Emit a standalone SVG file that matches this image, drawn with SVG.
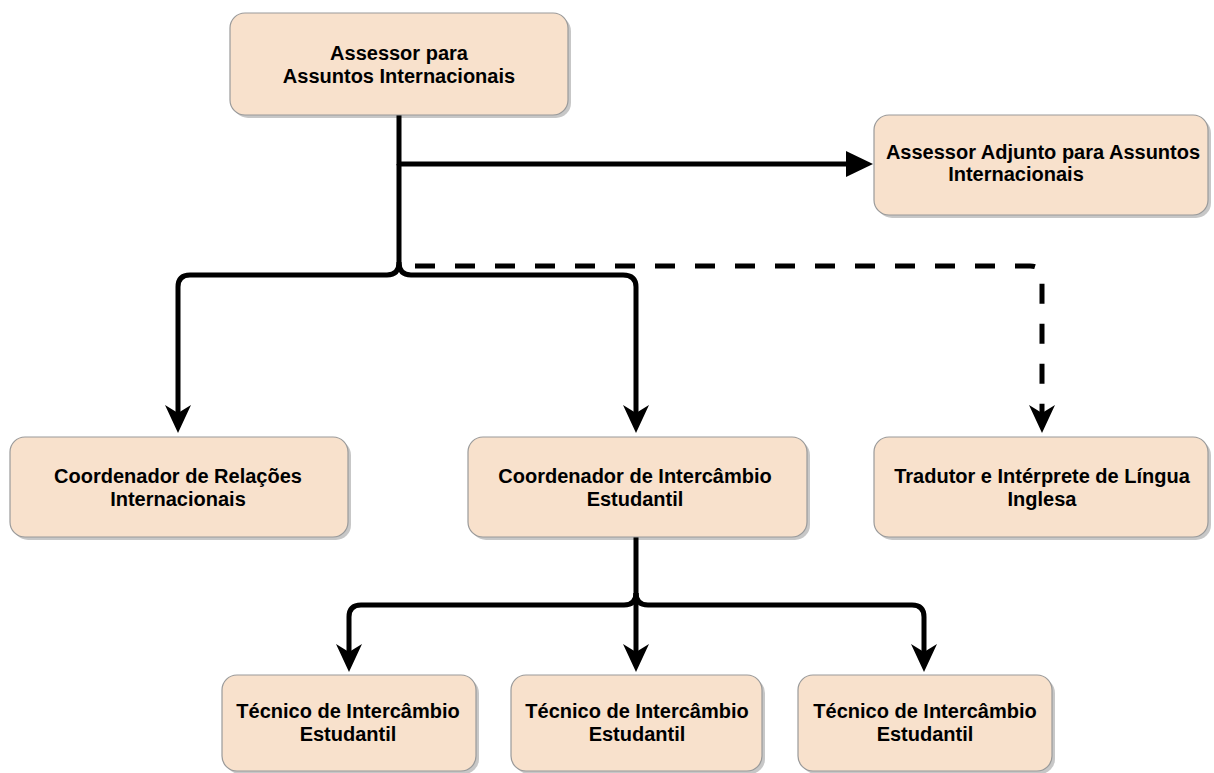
<svg xmlns="http://www.w3.org/2000/svg" width="1214" height="773" viewBox="0 0 1214 773">
<defs>
<style>
.box{fill:#F8E1CC;stroke:#9a9a9a;stroke-width:1.2}
.sh{fill:#000;opacity:0.22}
.t{font-family:"Liberation Sans",Arial,Helvetica,sans-serif;font-size:20px;font-weight:bold;fill:#000;text-anchor:middle}
.c{fill:none;stroke:#000;stroke-width:5;stroke-linejoin:round}
.d{stroke-dasharray:20 20}
</style>
<marker id="notch" viewBox="0 0 28 26" refX="16" refY="13" markerWidth="28" markerHeight="26" markerUnits="userSpaceOnUse" orient="auto">
<path d="M0,0 L28,13 L0,26 L8,13 Z" fill="#000"/>
</marker>
<marker id="block" viewBox="0 0 27 26" refX="15" refY="13" markerWidth="27" markerHeight="26" markerUnits="userSpaceOnUse" orient="auto">
<path d="M0,0 L27,13 L0,26 Z" fill="#000"/>
</marker>
</defs>
<rect width="1214" height="773" fill="#fff"/>

<g id="connectors">
<path class="c" d="M399,115 V164 H861" marker-end="url(#block)"/>
<path class="c" d="M399,164 V262 Q399,275 387,275 H190 Q178,275 178,287 V421" marker-end="url(#notch)"/>
<path class="c" d="M399,262 Q399,275 411,275 H623 Q636,275 636,287 V421" marker-end="url(#notch)"/>
<path class="c d" d="M415,266 H1030 Q1042,266 1042,278 V421" marker-end="url(#notch)"/>
<path class="c" d="M636,537 V660" marker-end="url(#notch)"/>
<path class="c" d="M636,593 Q636,605 624,605 H361 Q349,605 349,617 V660" marker-end="url(#notch)"/>
<path class="c" d="M636,593 Q636,605 648,605 H912 Q924,605 924,617 V660" marker-end="url(#notch)"/>
</g>

<g id="n-assessor">
<rect class="sh" x="233" y="16" width="338" height="102" rx="15"/>
<rect class="box" x="230" y="13" width="338" height="102" rx="15"/>
<text class="t" x="399" y="60">Assessor para</text>
<text class="t" x="399" y="83">Assuntos Internacionais</text>
</g>

<g id="n-adjunto">
<rect class="sh" x="877" y="118" width="334" height="100" rx="15"/>
<rect class="box" x="874" y="115" width="334" height="100" rx="15"/>
<text class="t" x="1043" y="159">Assessor Adjunto para Assuntos</text>
<text class="t" x="1016" y="181">Internacionais</text>
</g>

<g id="n-relacoes">
<rect class="sh" x="13" y="440" width="338" height="100" rx="15"/>
<rect class="box" x="10" y="437" width="338" height="100" rx="15"/>
<text class="t" x="178" y="483">Coordenador de Relações</text>
<text class="t" x="178" y="506">Internacionais</text>
</g>

<g id="n-intercambio">
<rect class="sh" x="471" y="440" width="339" height="100" rx="15"/>
<rect class="box" x="468" y="437" width="339" height="100" rx="15"/>
<text class="t" x="635" y="483">Coordenador de Intercâmbio</text>
<text class="t" x="635" y="506">Estudantil</text>
</g>

<g id="n-tradutor">
<rect class="sh" x="877" y="440" width="334" height="100" rx="15"/>
<rect class="box" x="874" y="437" width="334" height="100" rx="15"/>
<text class="t" x="1042" y="483">Tradutor e Intérprete de Língua</text>
<text class="t" x="1042" y="506">Inglesa</text>
</g>

<g id="n-tecnico1">
<rect class="sh" x="225" y="678" width="254" height="96" rx="15"/>
<rect class="box" x="222" y="675" width="254" height="96" rx="15"/>
<text class="t" x="348" y="718">Técnico de Intercâmbio</text>
<text class="t" x="348" y="741">Estudantil</text>
</g>

<g id="n-tecnico2">
<rect class="sh" x="514" y="678" width="251" height="96" rx="15"/>
<rect class="box" x="511" y="675" width="251" height="96" rx="15"/>
<text class="t" x="637" y="718">Técnico de Intercâmbio</text>
<text class="t" x="637" y="741">Estudantil</text>
</g>

<g id="n-tecnico3">
<rect class="sh" x="801" y="678" width="254" height="96" rx="15"/>
<rect class="box" x="798" y="675" width="254" height="96" rx="15"/>
<text class="t" x="925" y="718">Técnico de Intercâmbio</text>
<text class="t" x="925" y="741">Estudantil</text>
</g>
</svg>
